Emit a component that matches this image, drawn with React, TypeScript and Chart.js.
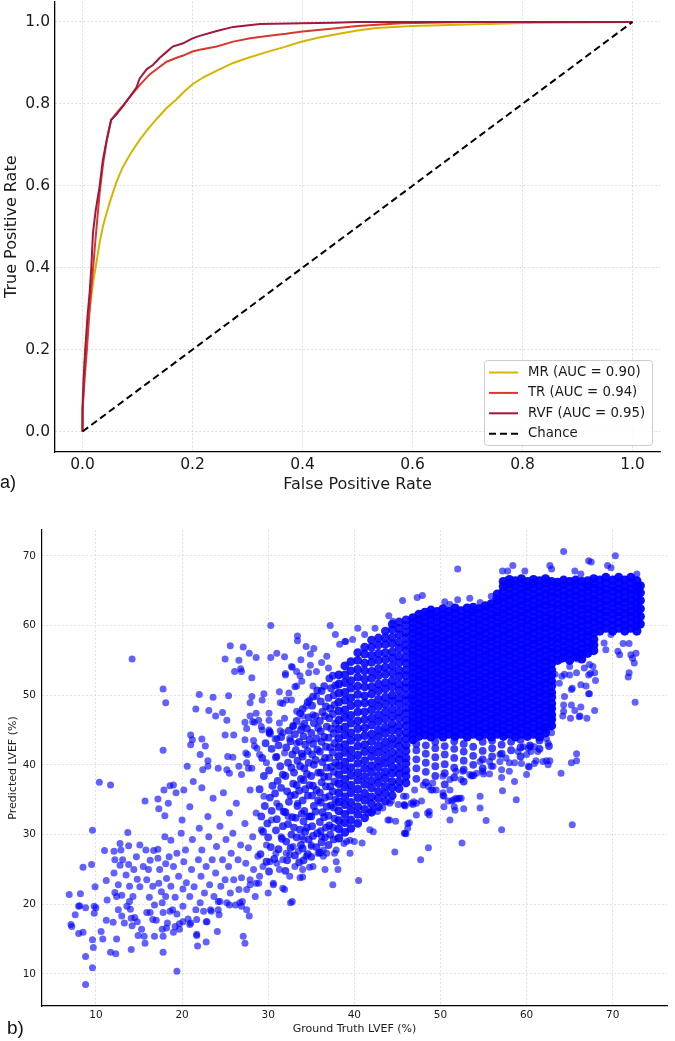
import { useEffect, useRef } from 'react';
import { Chart, registerables } from 'chart.js';

Chart.register(...registerables);

// ---------- Panel a) ROC curves ----------
const rocTicks = [0, 0.2, 0.4, 0.6, 0.8, 1.0];

const mrFpr = [0, 0.001, 0.003, 0.005, 0.008, 0.012, 0.016, 0.02, 0.025, 0.031, 0.037, 0.044, 0.052, 0.062, 0.073, 0.088, 0.104, 0.12, 0.136, 0.153, 0.17, 0.185, 0.2, 0.22, 0.245, 0.274, 0.3, 0.336, 0.365, 0.396, 0.43, 0.469, 0.5, 0.533, 0.6, 0.7, 0.825, 0.9, 1];
const mrTpr = [0, 0.08, 0.14, 0.2, 0.24, 0.29, 0.33, 0.37, 0.41, 0.46, 0.5, 0.535, 0.57, 0.61, 0.645, 0.68, 0.712, 0.74, 0.765, 0.79, 0.81, 0.83, 0.848, 0.865, 0.882, 0.9, 0.912, 0.927, 0.938, 0.951, 0.962, 0.972, 0.979, 0.985, 0.99, 0.994, 0.998, 0.999, 1];

const trFpr = [0, 0, 0.002, 0.004, 0.008, 0.012, 0.016, 0.02, 0.023, 0.027, 0.031, 0.037, 0.044, 0.052, 0.061, 0.073, 0.086, 0.098, 0.104, 0.122, 0.14, 0.153, 0.17, 0.183, 0.2, 0.213, 0.244, 0.274, 0.305, 0.336, 0.37, 0.396, 0.456, 0.5, 0.58, 0.7, 1];
const trTpr = [0, 0.05, 0.09, 0.13, 0.2, 0.28, 0.35, 0.41, 0.46, 0.52, 0.58, 0.65, 0.71, 0.76, 0.776, 0.795, 0.817, 0.836, 0.846, 0.872, 0.89, 0.903, 0.912, 0.918, 0.928, 0.932, 0.94, 0.952, 0.96, 0.966, 0.971, 0.976, 0.984, 0.99, 0.997, 1, 1];

const rvfFpr = [0, 0, 0.002, 0.005, 0.009, 0.013, 0.016, 0.019, 0.024, 0.031, 0.037, 0.044, 0.052, 0.061, 0.073, 0.086, 0.098, 0.104, 0.117, 0.128, 0.14, 0.153, 0.164, 0.183, 0.2, 0.213, 0.244, 0.274, 0.323, 0.4, 0.456, 0.5, 1];
const rvfTpr = [0, 0.06, 0.13, 0.2, 0.28, 0.34, 0.4, 0.485, 0.54, 0.598, 0.663, 0.712, 0.761, 0.773, 0.793, 0.817, 0.84, 0.862, 0.885, 0.895, 0.912, 0.927, 0.94, 0.948, 0.96, 0.966, 0.978, 0.988, 0.995, 0.997, 0.998, 1, 1];

const chanceFpr = [0, 1];
const chanceTpr = [0, 1];

const rocLabels = ['MR (AUC = 0.90)', 'TR (AUC = 0.94)', 'RVF (AUC = 0.95)', 'Chance'];
const rocColors = ['#d6b400', '#d8392a', '#a3173c', '#000000'];

// ---------- Panel b) LVEF scatter ----------
const lvefTicks = [10, 20, 30, 40, 50, 60, 70];

// flat [truth, predicted, truth, predicted, ...] lists
const lvefLowTail = [
  6.9, 21.4, 7.1, 17.1, 7.2, 16.8, 7.6, 18.5, 8.0, 19.7, 8.1, 19.8, 8.2, 21.5, 8.0, 15.8, 8.5, 16.0, 8.5, 25.3,
  8.8, 19.5, 8.8, 12.5, 8.8, 8.5, 9.5, 25.7, 9.6, 30.6, 9.6, 14.9, 9.7, 13.8, 9.6, 10.9, 9.8, 19.7, 9.8, 18.7,
  10.0, 19.5, 9.9, 22.5, 10.4, 37.5, 10.6, 16.1, 10.8, 15.0, 11.0, 27.7, 11.2, 23.4, 11.2, 17.7, 11.3, 20.6, 11.7, 37.1,
  11.7, 13.1, 12.1, 27.6, 12.2, 26.4, 12.1, 24.5, 12.2, 21.7, 12.0, 17.4, 12.3, 12.9, 12.4, 15.0, 12.4, 21.1, 12.6, 22.8,
  12.6, 19.2, 12.8, 28.7, 12.9, 27.8, 12.8, 25.6, 13.0, 21.3, 13.0, 18.3, 13.1, 26.4, 13.3, 17.3, 13.5, 24.2, 13.6, 19.7,
  13.7, 30.3, 13.8, 28.4, 13.8, 25.7, 13.9, 22.6, 13.9, 20.4, 14.0, 19.3, 14.1, 13.5, 14.1, 18.0, 14.2, 16.9, 14.3, 21.1,
  14.4, 25.0, 14.5, 18.1, 14.7, 26.8, 14.8, 23.6, 14.8, 17.5, 14.9, 15.5, 15.1, 28.5, 15.1, 22.5, 15.3, 16.4, 15.5, 25.4,
  15.6, 15.4, 15.7, 14.4, 15.8, 27.8, 15.9, 23.5, 15.9, 18.8, 15.7, 34.8, 16.1, 25.0, 16.2, 21.0, 16.3, 18.8, 16.3, 26.3,
  16.6, 22.6, 16.7, 27.7, 16.8, 19.9, 17.0, 17.7, 17.2, 35.1, 17.2, 26.6, 17.2, 27.9, 17.3, 23.0, 17.3, 33.7, 17.4, 25.0,
  17.6, 21.8, 17.7, 20.2, 17.7, 16.4, 17.8, 13.1, 17.8, 18.8, 17.9, 36.4, 18.0, 32.7, 18.0, 29.7, 18.1, 25.8, 18.1, 21.1,
  18.2, 23.7, 18.3, 17.3, 18.4, 34.5, 18.6, 37.0, 18.5, 26.8, 18.7, 22.6, 18.7, 29.2, 18.9, 19.2, 19.0, 16.0, 19.0, 37.1,
  19.0, 25.4, 19.2, 21.0, 19.3, 36.0, 19.4, 27.3, 19.4, 18.6, 19.4, 10.4, 19.6, 24.0, 19.7, 17.2, 19.7, 16.4, 19.9, 30.2,
  20.0, 32.1, 20.1, 22.2, 20.1, 19.7, 20.2, 36.4, 20.2, 26.1, 20.4, 27.8, 20.5, 23.1, 20.7, 17.9, 20.9, 34.0, 20.9, 21.1,
  21.0, 17.3, 21.1, 25.0, 21.2, 29.3, 21.3, 37.6, 21.4, 22.5, 21.6, 19.2, 21.7, 15.5, 21.8, 14.0, 21.9, 26.4, 22.0, 30.9,
  22.1, 20.2, 22.2, 24.0, 22.3, 36.7, 22.3, 27.8, 22.5, 19.0, 22.6, 21.6, 22.8, 25.4, 22.8, 14.6, 22.9, 17.5, 23.0, 32.6,
  23.1, 29.7, 23.2, 22.8, 23.3, 19.2, 23.5, 26.4, 23.6, 35.2, 23.7, 21.1, 23.9, 24.5, 24.0, 28.3, 24.1, 16.1, 24.2, 20.4,
  24.3, 18.5, 24.4, 31.2, 24.5, 22.6, 24.7, 26.4, 24.8, 36.0, 25.0, 23.5, 25.1, 29.3, 25.2, 20.2, 25.4, 25.4, 25.5, 33.1,
  25.6, 21.6, 25.7, 27.3, 25.9, 30.2, 26.0, 23.5, 26.2, 19.9, 26.3, 34.5, 26.5, 26.4, 26.6, 22.1, 26.8, 28.5, 26.9, 23.8,
  27.0, 20.4, 27.1, 15.4, 27.3, 14.4, 27.3, 31.6, 27.4, 25.9, 27.5, 19.2, 27.7, 28.1, 27.8, 18.3, 27.9, 22.8, 27.9, 36.4,
  28.2, 29.7, 28.3, 25.0, 28.5, 21.1, 28.6, 33.1, 28.8, 26.9, 28.9, 23.0, 29.2, 30.7, 29.4, 25.4, 29.5, 35.5, 29.8, 28.5,
  21.7, 15.7, 29.0, 24.0, 28.6, 23.0, 27.9, 23.5, 27.5, 22.1, 26.7, 20.2, 26.9, 19.7, 25.5, 19.9, 24.4, 20.4, 24.2, 19.2,
  23.4, 19.0, 22.8, 17.5, 21.7, 17.8, 20.9, 17.1, 20.1, 17.5, 19.2, 16.8, 18.2, 16.6, 17.8, 15.4, 16.6, 17.8, 16.8, 15.4,
  18.6, 19.0,
];

const lvefMidLower = [
  30.0, 21.6, 30.2, 26.1, 30.4, 32.1, 30.6, 23.0, 30.9, 27.3, 31.0, 34.5, 31.3, 25.0, 31.5, 29.7, 31.7, 22.3, 31.9, 22.1,
  32.1, 27.3, 32.3, 32.6, 32.5, 24.0, 32.6, 20.2, 32.8, 20.4, 32.9, 28.3, 33.1, 25.4, 33.4, 34.5, 33.7, 23.8, 33.9, 29.7,
  34.0, 25.0, 34.4, 26.9, 34.6, 32.6, 35.0, 28.5, 35.2, 25.4, 35.8, 27.3, 36.2, 29.7, 36.6, 25.0, 36.8, 27.3, 37.5, 22.8,
  37.7, 27.3, 38.1, 25.0, 44.7, 27.5, 40.5, 23.4, 36.4, 26.9, 34.8, 25.3, 34.0, 23.9, 30.6, 22.8, 46.2, 31.6, 45.8, 30.2,
  43.9, 32.1, 44.8, 31.9, 44.1, 34.5, 45.1, 34.3, 45.8, 34.3, 41.8, 30.7, 42.2, 30.4, 40.9, 28.8, 40.0, 29.0, 39.1, 29.0,
  37.9, 27.8, 37.9, 26.1, 39.5, 27.3, 36.4, 27.8, 35.0, 28.3, 34.1, 29.3, 33.5, 27.6, 32.5, 27.1, 31.7, 26.4, 31.0, 25.9,
  47.2, 32.8, 48.7, 32.8, 48.7, 33.3, 45.9, 30.2, 46.4, 31.7, 44.1, 32.1, 46.9, 34.7, 45.8, 34.2, 44.3, 34.8, 43.3, 33.8,
  42.7, 33.3, 41.6, 33.1, 42.1, 33.5, 39.5, 29.2, 38.8, 28.7, 47.8, 34.8, 47.0, 36.4, 46.0, 35.5, 46.6, 34.5, 48.6, 28.1,
  47.7, 26.4, 48.5, 33.1, 46.2, 30.9, 46.0, 30.1, 45.7, 35.5, 45.9, 34.1, 46.8, 34.3, 47.2, 34.5,
];

const lvefUpperLeft = [
  14.2, 55.2, 17.8, 50.9, 18.1, 48.9, 17.8, 42.1, 30.3, 60.0, 37.2, 60.0, 37.8, 58.7, 33.4, 58.5, 33.4, 57.8, 34.4, 57.0,
  35.3, 56.7, 25.6, 57.1, 27.1, 56.9, 25.0, 55.2, 26.6, 55.0, 27.8, 56.0, 28.6, 55.4, 31.0, 56.0, 30.3, 55.4, 31.9, 55.5,
  33.8, 55.1, 34.9, 55.9, 26.1, 53.4, 26.8, 53.8, 26.9, 53.4, 28.1, 52.5, 32.8, 54.0, 34.9, 54.3, 22.0, 50.1, 23.6, 49.7,
  25.4, 49.9, 28.1, 49.8, 29.5, 50.2, 21.6, 48.0, 23.1, 47.8, 23.9, 47.0, 24.7, 47.5, 25.2, 46.4, 27.3, 46.1, 28.4, 46.1,
  27.5, 45.2, 28.9, 46.4, 30.1, 47.4, 30.1, 46.4, 29.3, 45.0, 25.0, 44.3, 26.0, 44.3, 21.0, 44.3, 21.2, 43.6, 21.0, 42.9,
  22.3, 43.7, 22.7, 42.7, 22.1, 41.5, 23.0, 40.6, 20.6, 39.8, 25.3, 41.2, 25.9, 41.1, 27.3, 43.6, 28.3, 43.5, 27.6, 41.5,
  28.7, 42.4, 30.1, 45.0, 30.1, 44.6, 30.8, 43.7, 31.4, 44.9, 31.7, 48.8, 31.3, 50.5, 32.0, 53.1, 32.4, 50.3, 32.7, 49.3,
  33.1, 51.2, 23.0, 39.8, 24.2, 39.5, 25.2, 39.3, 26.6, 39.8, 27.7, 39.5, 39.0, 57.7, 39.8, 58.0, 40.4, 59.6, 44.0, 61.4,
  45.6, 63.6, 32.7, 54.1, 32.0, 52.9, 33.3, 53.4, 33.7, 52.8, 34.7, 53.2, 35.6, 53.4, 36.2, 54.7, 36.8, 55.6, 37.0, 53.9,
  27.9, 48.9, 29.3, 49.3, 27.9, 47.0, 28.6, 47.4, 28.2, 46.2, 29.2, 45.5, 30.2, 44.8, 31.0, 43.8, 31.7, 44.6, 31.3, 46.0,
  31.9, 46.7, 31.4, 48.9, 32.1, 49.3, 33.3, 51.3, 33.9, 52.0, 35.2, 51.3, 35.6, 49.8, 34.4, 48.4, 34.8, 49.3, 33.3, 47.7,
  34.0, 47.0, 35.2, 47.2, 32.9, 45.5, 33.9, 45.5, 32.5, 43.8, 33.3, 43.1, 27.4, 41.7, 28.4, 42.7, 29.0, 41.5, 27.5, 40.3,
  22.4, 39.3, 25.5, 38.8, 26.9, 38.6, 28.1, 39.5, 29.8, 40.3, 31.0, 41.2, 31.9, 41.7, 38.3, 57.3, 38.9, 57.7, 41.2, 58.7,
  42.4, 59.6, 44.5, 60.6,
];

const lvefLowerRight = [
  65.3, 31.4, 64.0, 38.8, 60.0, 38.6, 58.8, 35.0, 58.6, 37.6, 57.2, 36.3, 57.1, 38.2, 57.1, 30.7, 55.3, 32.0, 54.6, 35.5,
  54.6, 33.8, 55.0, 38.7, 55.7, 38.7, 53.6, 38.4, 52.5, 28.8, 51.1, 32.1, 50.4, 34.0, 51.7, 33.5, 52.4, 35.2, 52.7, 33.7,
  50.9, 34.8, 50.3, 35.6, 51.5, 35.0, 52.0, 35.1, 48.0, 37.1, 48.9, 36.4, 49.5, 36.4, 72.6, 49.0, 67.9, 47.8, 66.3, 48.3,
  65.6, 47.8, 65.2, 48.6, 66.2, 47.0, 67.0, 46.7, 65.1, 46.7, 64.2, 47.0, 64.4, 49.8, 67.2, 50.2, 65.2, 50.8, 65.8, 41.6,
  65.2, 40.3, 65.8, 40.6, 62.3, 40.6, 62.7, 40.6, 61.1, 40.6, 61.9, 40.5, 60.3, 39.7, 58.0, 40.3, 58.6, 40.3, 57.1, 39.3,
  58.0, 39.1, 60.0, 41.5, 60.5, 41.9, 60.9, 42.6, 61.3, 41.9, 60.4, 42.6, 62.3, 43.8, 62.5, 43.1, 62.9, 44.6, 62.7, 45.5,
  62.9, 46.5, 62.9, 47.7, 51.6, 34.0, 51.8, 35.2, 52.2, 35.2, 50.4, 35.5, 51.3, 34.8, 50.3, 38.4, 51.1, 37.9, 51.8, 39.1,
  52.6, 39.1, 53.4, 38.6, 54.2, 38.8, 54.9, 39.1, 56.1, 39.8, 56.9, 40.5, 57.6, 41.0, 59.0, 41.9, 59.6, 42.6, 60.2, 42.4,
  50.3, 36.0, 49.1, 36.4, 48.6, 36.9, 49.1, 37.4, 51.1, 36.4, 52.4, 37.9, 54.6, 40.5, 55.7, 40.5, 56.9, 41.5, 62.5, 40.0,
  60.9, 40.2, 60.2, 39.8, 59.4, 40.2, 55.9, 39.8,
];

const lvefTopFringe = [
  64.3, 70.6, 70.3, 70.0, 52.0, 68.1, 47.3, 64.0, 47.9, 64.3, 50.5, 63.4, 52.0, 63.7, 53.4, 63.9, 54.6, 63.3, 55.9, 64.2,
  56.4, 63.9, 51.1, 63.0, 57.2, 67.8, 57.8, 67.8, 58.4, 68.6, 59.8, 67.8, 62.7, 68.6, 62.9, 68.1, 65.6, 67.8, 66.3, 67.4,
  67.2, 69.3, 67.5, 69.1, 69.4, 68.6, 69.8, 68.3, 72.8, 67.4,
];

const lvefRightSpread = [
  71.8, 52.6, 71.9, 53.2, 72.5, 54.6, 72.3, 55.3, 72.7, 56.0, 72.1, 55.8, 70.6, 56.3, 70.8, 55.8, 69.0, 57.5, 69.8, 58.7,
  71.2, 57.4, 71.9, 57.4, 65.3, 51.0, 66.1, 46.9, 64.3, 47.7, 64.3, 48.6, 68.0, 52.1, 67.4, 53.1, 66.3, 51.5, 66.7, 53.9,
  67.3, 54.4, 67.9, 53.2, 65.9, 55.2, 65.0, 54.1, 64.0, 55.1, 64.4, 53.0, 63.3, 53.0, 69.2, 56.5, 67.5, 57.0, 66.9, 51.3,
  67.3, 50.2, 63.8, 51.7, 64.1, 52.7, 65.0, 52.9, 65.8, 53.2, 67.2, 52.9, 67.7, 54.1,
];

// crowded diagonal band, ground truth 29-38 %
const lvefBandPairs = [
  29.1, 27.2, 29.4, 30.4, 29.2, 32.6, 29.6, 34.1, 29.0, 36.5, 29.5, 38.4, 29.3, 41.0, 29.7, 43.1, 29.8, 26.1, 29.9, 31.6,
  30.1, 24.7, 30.3, 28.2, 30.0, 29.6, 30.4, 33.4, 30.2, 35.3, 30.5, 37.0, 30.1, 39.2, 30.4, 42.3, 30.2, 44.5,
  30.7, 26.5, 30.9, 30.6, 31.2, 27.9, 31.0, 32.2, 31.3, 34.0, 30.8, 35.9, 31.1, 37.7, 31.4, 39.8, 30.9, 41.1, 31.2, 42.8,
  31.5, 44.0, 31.6, 29.4, 31.7, 31.2, 31.8, 33.3, 31.5, 36.7, 31.7, 38.6,
  32.0, 24.8, 32.2, 26.3, 32.1, 29.0, 32.3, 31.5, 32.0, 33.2, 32.4, 34.7, 32.2, 36.2, 32.0, 38.4, 32.3, 40.3, 32.1, 42.5,
  32.4, 44.9, 32.6, 28.1, 32.7, 30.0, 32.8, 32.5, 32.6, 35.6, 32.9, 37.3, 32.7, 39.6, 32.8, 41.5, 32.6, 43.4, 32.9, 45.6,
  33.1, 27.0, 33.3, 29.6, 33.0, 31.0, 33.2, 32.4, 33.4, 34.1, 33.1, 35.7, 33.3, 37.1, 33.0, 38.9, 33.4, 40.6, 33.2, 42.1,
  33.1, 44.4, 33.3, 46.3, 33.6, 26.0, 33.8, 28.5, 33.7, 30.7, 33.9, 33.0, 33.6, 36.3, 33.8, 38.0, 33.7, 39.8, 33.9, 41.6,
  33.6, 43.3, 33.8, 45.0, 33.7, 47.4,
  34.1, 26.3, 34.0, 28.0, 34.3, 30.4, 34.1, 31.9, 34.2, 33.4, 34.0, 34.9, 34.3, 36.5, 34.1, 37.8, 34.2, 39.5, 34.0, 41.2,
  34.3, 42.9, 34.1, 44.1, 34.2, 45.9, 34.0, 48.0, 34.6, 27.2, 34.7, 29.3, 34.5, 31.0, 34.8, 32.6, 34.6, 35.6, 34.8, 37.1,
  34.5, 38.7, 34.7, 40.3, 34.6, 42.0, 34.8, 43.6, 34.5, 45.2, 34.7, 46.8, 34.6, 49.0,
  35.0, 26.8, 35.2, 29.8, 35.1, 31.2, 35.0, 32.6, 35.3, 34.1, 35.1, 35.6, 35.2, 37.0, 35.0, 38.4, 35.3, 40.0, 35.1, 41.5,
  35.2, 43.0, 35.0, 44.6, 35.3, 46.0, 35.1, 48.5, 35.2, 49.8, 35.6, 28.2, 35.7, 30.2, 35.5, 33.3, 35.8, 34.9, 35.6, 36.4,
  35.8, 38.9, 35.5, 40.7, 35.7, 42.2, 35.6, 43.8, 35.8, 45.3, 35.5, 47.0, 35.7, 50.7,
  36.0, 27.4, 36.2, 28.9, 36.1, 30.5, 36.0, 31.8, 36.3, 33.2, 36.1, 34.6, 36.0, 36.0, 36.2, 37.5, 36.1, 38.9, 36.3, 40.4,
  36.0, 41.9, 36.2, 43.3, 36.1, 44.8, 36.0, 46.3, 36.3, 47.6, 36.1, 49.1, 36.2, 50.6, 36.6, 29.6, 36.7, 31.0, 36.5, 32.5,
  36.8, 34.0, 36.6, 35.3, 36.7, 36.9, 36.5, 38.3, 36.8, 39.6, 36.6, 41.0, 36.7, 42.6, 36.5, 44.0, 36.8, 45.5, 36.6, 47.0,
  36.7, 48.4, 36.5, 51.3,
  37.0, 28.5, 37.2, 30.0, 37.1, 31.3, 37.0, 32.7, 37.3, 34.2, 37.1, 35.5, 37.2, 36.9, 37.0, 38.3, 37.3, 39.7, 37.1, 41.0,
  37.2, 42.5, 37.0, 43.9, 37.3, 45.2, 37.1, 46.7, 37.2, 48.1, 37.0, 49.6, 37.3, 51.0, 37.1, 52.4, 37.6, 29.3, 37.5, 31.0,
  37.7, 32.3, 37.6, 33.9, 37.8, 35.0, 37.5, 36.2, 37.7, 37.6, 37.6, 39.0, 37.8, 40.3, 37.5, 41.8, 37.7, 43.1, 37.6, 44.5,
  37.8, 45.9, 37.5, 47.3, 37.7, 48.6, 37.6, 50.0, 37.8, 51.4, 37.5, 52.8,
];

// columns: first value is the ground-truth LVEF, the rest are predictions at that value
const lvefShoulderColumns = [
  [38.2, 29.5, 30.8, 32.0, 33.4, 34.7, 36.0, 37.3, 38.6, 39.9, 41.2, 42.5, 43.8, 45.1, 46.4, 47.7, 49.0, 50.3, 51.6, 52.9],
  [38.9, 30.3, 31.7, 32.9, 34.3, 35.4, 36.8, 37.9, 39.3, 40.4, 41.8, 42.9, 44.3, 45.4, 46.8, 47.9, 49.3, 50.4, 51.8, 52.9, 54.2],
  [39.6, 30.9, 32.1, 33.5, 34.6, 36.0, 37.1, 38.5, 39.6, 41.0, 42.1, 43.5, 44.6, 46.0, 47.1, 48.5, 49.6, 51.0, 52.1, 53.5, 54.8],
  [40.4, 31.6, 32.9, 34.0, 35.3, 36.5, 37.8, 38.9, 40.2, 41.4, 42.7, 43.9, 45.2, 46.3, 47.6, 48.8, 50.1, 51.3, 52.6, 53.7, 55.0, 56.1],
  [41.2, 32.4, 33.6, 34.9, 35.9, 37.2, 38.3, 39.5, 40.6, 41.9, 42.9, 44.2, 45.3, 46.5, 47.6, 48.9, 49.9, 51.2, 52.3, 53.5, 54.6, 55.9, 56.9],
  [42.0, 33.2, 34.4, 35.4, 36.7, 37.7, 38.9, 39.9, 41.2, 42.2, 43.4, 44.4, 45.7, 46.7, 47.9, 48.9, 50.2, 51.2, 52.4, 53.4, 54.7, 55.7, 56.9, 57.9],
  [42.8, 34.0, 35.2, 36.2, 37.4, 38.4, 39.6, 40.6, 41.8, 42.8, 44.0, 45.0, 46.2, 47.2, 48.4, 49.4, 50.6, 51.6, 52.8, 53.8, 55.0, 56.0, 57.2, 58.2],
  [43.6, 34.8, 35.9, 36.9, 38.1, 39.0, 40.2, 41.2, 42.3, 43.3, 44.5, 45.4, 46.6, 47.6, 48.7, 49.7, 50.9, 51.8, 53.0, 54.0, 55.1, 56.1, 57.3, 58.2, 59.2],
  [44.4, 35.6, 36.7, 37.6, 38.8, 39.7, 40.8, 41.8, 42.9, 43.8, 45.0, 45.9, 47.0, 48.0, 49.1, 50.0, 51.2, 52.1, 53.2, 54.2, 55.3, 56.2, 57.4, 58.3, 59.4, 60.2],
  [45.2, 36.6, 37.6, 38.7, 39.6, 40.7, 41.6, 42.7, 43.6, 44.7, 45.6, 46.7, 47.6, 48.7, 49.6, 50.7, 51.6, 52.7, 53.6, 54.7, 55.6, 56.7, 57.6, 58.7, 59.6, 60.5],
  [46.0, 37.4, 38.4, 39.2, 40.2, 41.0, 42.0, 42.8, 43.8, 44.6, 45.6, 46.4, 47.4, 48.2, 49.2, 50.0, 51.0, 51.8, 52.8, 53.6, 54.6, 55.4, 56.4, 57.2, 58.2, 59.0, 60.0, 60.8],
];

const lvefUnderColumns = [
  [47.2, 38.0, 39.5, 40.8, 42.1, 43.0],
  [48.3, 37.5, 39.0, 40.3, 41.6, 42.8],
  [49.4, 38.4, 39.8, 41.1, 42.4, 43.3],
  [50.5, 37.2, 38.8, 40.1, 41.5, 42.7],
  [51.6, 38.2, 39.6, 41.0, 42.3, 43.4],
  [52.7, 37.6, 39.3, 40.6, 41.9, 43.0],
  [53.8, 38.5, 40.0, 41.3, 42.6],
  [54.9, 39.5, 40.8, 42.0, 43.3],
  [56.0, 41.2, 42.4, 43.5],
  [57.1, 41.6, 42.9],
  [58.2, 42.1, 43.3],
  [59.3, 41.2, 42.5, 43.6],
  [60.4, 42.8],
  [61.5, 42.3, 43.5],
  [62.6, 42.7],
];

const lvefCoreColumns = [
  [46.8, 43.6, 44.5, 45.2, 46.1, 46.8, 47.7, 48.4, 49.3, 50.0, 50.9, 51.6, 52.5, 53.2, 54.1, 54.8, 55.7, 56.4, 57.3, 58.0, 58.9, 59.6, 60.4, 61.1],
  [47.5, 44.1, 44.9, 45.7, 46.4, 47.3, 48.0, 48.9, 49.6, 50.5, 51.2, 52.1, 52.8, 53.7, 54.4, 55.3, 56.0, 56.9, 57.6, 58.5, 59.2, 60.1, 60.8, 61.6],
  [48.2, 44.3, 45.1, 46.0, 46.8, 47.6, 48.5, 49.2, 50.1, 50.8, 51.7, 52.4, 53.3, 54.0, 54.9, 55.6, 56.5, 57.2, 58.1, 58.8, 59.7, 60.4, 61.3, 61.9],
  [48.9, 44.0, 44.8, 45.6, 46.5, 47.2, 48.1, 48.8, 49.7, 50.4, 51.3, 52.0, 52.9, 53.6, 54.5, 55.2, 56.1, 56.8, 57.7, 58.4, 59.3, 60.0, 60.9, 61.6, 62.2],
  [49.6, 44.4, 45.2, 46.1, 46.8, 47.7, 48.4, 49.3, 50.0, 50.9, 51.6, 52.5, 53.2, 54.1, 54.8, 55.7, 56.4, 57.3, 58.0, 58.9, 59.6, 60.5, 61.2, 62.0],
  [50.3, 44.0, 44.9, 45.6, 46.5, 47.2, 48.1, 48.8, 49.7, 50.4, 51.3, 52.0, 52.9, 53.6, 54.5, 55.2, 56.1, 56.8, 57.7, 58.4, 59.3, 60.0, 60.9, 61.6, 62.4],
  [51.0, 44.4, 45.3, 46.0, 46.9, 47.6, 48.5, 49.2, 50.1, 50.8, 51.7, 52.4, 53.3, 54.0, 54.9, 55.6, 56.5, 57.2, 58.1, 58.8, 59.7, 60.4, 61.3, 62.0],
  [51.7, 44.1, 44.8, 45.7, 46.4, 47.3, 48.0, 48.9, 49.6, 50.5, 51.2, 52.1, 52.8, 53.7, 54.4, 55.3, 56.0, 56.9, 57.6, 58.5, 59.2, 60.1, 60.8, 61.7, 62.5],
  [52.4, 44.4, 45.2, 46.1, 46.8, 47.7, 48.4, 49.3, 50.0, 50.9, 51.6, 52.5, 53.2, 54.1, 54.8, 55.7, 56.4, 57.3, 58.0, 58.9, 59.6, 60.5, 61.2, 62.1],
  [53.1, 44.0, 44.9, 45.6, 46.5, 47.2, 48.1, 48.8, 49.7, 50.4, 51.3, 52.0, 52.9, 53.6, 54.5, 55.2, 56.1, 56.8, 57.7, 58.4, 59.3, 60.0, 60.9, 61.6, 62.5],
  [53.8, 44.4, 45.3, 46.0, 46.9, 47.6, 48.5, 49.2, 50.1, 50.8, 51.7, 52.4, 53.3, 54.0, 54.9, 55.6, 56.5, 57.2, 58.1, 58.8, 59.7, 60.4, 61.3, 62.0, 62.6],
  [54.5, 44.1, 44.8, 45.7, 46.4, 47.3, 48.0, 48.9, 49.6, 50.5, 51.2, 52.1, 52.8, 53.7, 54.4, 55.3, 56.0, 56.9, 57.6, 58.5, 59.2, 60.1, 60.8, 61.7, 62.4],
  [55.2, 44.4, 45.2, 46.1, 46.8, 47.7, 48.4, 49.3, 50.0, 50.9, 51.6, 52.5, 53.2, 54.1, 54.8, 55.7, 56.4, 57.3, 58.0, 58.9, 59.6, 60.5, 61.2, 62.1, 62.8],
  [55.9, 44.0, 44.9, 45.6, 46.5, 47.2, 48.1, 48.8, 49.7, 50.4, 51.3, 52.0, 52.9, 53.6, 54.5, 55.2, 56.1, 56.8, 57.7, 58.4, 59.3, 60.0, 60.9, 61.6, 62.5, 63.1],
  [56.6, 44.4, 45.3, 46.0, 46.9, 47.6, 48.5, 49.2, 50.1, 50.8, 51.7, 52.4, 53.3, 54.0, 54.9, 55.6, 56.5, 57.2, 58.1, 58.8, 59.7, 60.4, 61.3, 62.0, 62.9, 63.6, 64.5],
  [57.3, 44.1, 44.8, 45.7, 46.4, 47.3, 48.0, 48.9, 49.6, 50.5, 51.2, 52.1, 52.8, 53.7, 54.4, 55.3, 56.0, 56.9, 57.6, 58.5, 59.2, 60.1, 60.8, 61.7, 62.4, 63.3, 64.0, 64.9, 65.6, 66.3],
  [58.0, 44.4, 45.2, 46.1, 46.8, 47.7, 48.4, 49.3, 50.0, 50.9, 51.6, 52.5, 53.2, 54.1, 54.8, 55.7, 56.4, 57.3, 58.0, 58.9, 59.6, 60.5, 61.2, 62.1, 62.8, 63.7, 64.4, 65.3, 66.0, 66.6],
  [58.7, 44.0, 44.9, 45.6, 46.5, 47.2, 48.1, 48.8, 49.7, 50.4, 51.3, 52.0, 52.9, 53.6, 54.5, 55.2, 56.1, 56.8, 57.7, 58.4, 59.3, 60.0, 60.9, 61.6, 62.5, 63.2, 64.1, 64.8, 65.7, 66.4],
  [59.4, 44.4, 45.3, 46.0, 46.9, 47.6, 48.5, 49.2, 50.1, 50.8, 51.7, 52.4, 53.3, 54.0, 54.9, 55.6, 56.5, 57.2, 58.1, 58.8, 59.7, 60.4, 61.3, 62.0, 62.9, 63.6, 64.5, 65.2, 66.1, 66.7],
  [60.1, 44.1, 44.8, 45.7, 46.4, 47.3, 48.0, 48.9, 49.6, 50.5, 51.2, 52.1, 52.8, 53.7, 54.4, 55.3, 56.0, 56.9, 57.6, 58.5, 59.2, 60.1, 60.8, 61.7, 62.4, 63.3, 64.0, 64.9, 65.6, 66.3],
  [60.8, 44.4, 45.2, 46.1, 46.8, 47.7, 48.4, 49.3, 50.0, 50.9, 51.6, 52.5, 53.2, 54.1, 54.8, 55.7, 56.4, 57.3, 58.0, 58.9, 59.6, 60.5, 61.2, 62.1, 62.8, 63.7, 64.4, 65.3, 66.0, 66.6],
  [61.5, 44.0, 44.9, 45.6, 46.5, 47.2, 48.1, 48.8, 49.7, 50.4, 51.3, 52.0, 52.9, 53.6, 54.5, 55.2, 56.1, 56.8, 57.7, 58.4, 59.3, 60.0, 60.9, 61.6, 62.5, 63.2, 64.1, 64.8, 65.7, 66.4],
  [62.2, 44.6, 45.3, 46.0, 46.9, 47.6, 48.5, 49.2, 50.1, 50.8, 51.7, 52.4, 53.3, 54.0, 54.9, 55.6, 56.5, 57.2, 58.1, 58.8, 59.7, 60.4, 61.3, 62.0, 62.9, 63.6, 64.5, 65.2, 66.1, 66.7],
  [62.9, 45.6, 46.5, 47.2, 48.1, 48.8, 49.7, 50.4, 51.3, 52.0, 52.9, 53.6, 54.5, 55.2, 56.1, 56.8, 57.7, 58.4, 59.3, 60.0, 60.9, 61.6, 62.5, 63.2, 64.1, 64.8, 65.7, 66.3],
  [63.6, 55.0, 55.9, 56.6, 57.5, 58.2, 59.1, 59.8, 60.7, 61.4, 62.3, 63.0, 63.9, 64.6, 65.5, 66.2],
  [64.3, 55.4, 56.2, 57.0, 57.8, 58.6, 59.5, 60.2, 61.1, 61.8, 62.7, 63.4, 64.3, 65.0, 65.9, 66.5],
  [65.0, 55.0, 55.9, 56.6, 57.5, 58.2, 59.1, 59.8, 60.7, 61.4, 62.3, 63.0, 63.9, 64.6, 65.5, 66.3],
  [65.7, 55.5, 56.2, 57.0, 57.8, 58.6, 59.5, 60.2, 61.1, 61.8, 62.7, 63.4, 64.3, 65.0, 65.9, 66.5],
  [66.4, 55.2, 55.9, 56.6, 57.5, 58.2, 59.1, 59.8, 60.7, 61.4, 62.3, 63.0, 63.9, 64.6, 65.5, 66.3],
  [67.1, 56.0, 56.8, 57.6, 58.5, 59.2, 60.1, 60.8, 61.7, 62.4, 63.3, 64.0, 64.9, 65.6, 66.4],
  [67.8, 56.4, 57.2, 58.0, 58.9, 59.6, 60.5, 61.2, 62.1, 62.8, 63.7, 64.4, 65.3, 66.0, 66.7],
  [68.5, 59.2, 60.0, 60.8, 61.7, 62.4, 63.3, 64.0, 64.9, 65.6, 66.5],
  [69.2, 59.6, 60.4, 61.3, 62.0, 62.9, 63.6, 64.5, 65.2, 66.1, 66.9],
  [70.0, 59.2, 60.0, 60.8, 61.7, 62.4, 63.3, 64.0, 64.9, 65.6, 66.5],
  [70.7, 59.6, 60.4, 61.3, 62.0, 62.9, 63.6, 64.5, 65.2, 66.1, 66.9],
  [71.4, 59.2, 60.0, 60.8, 61.7, 62.4, 63.3, 64.0, 64.9, 65.6, 66.5],
  [72.1, 59.6, 60.4, 61.3, 62.0, 62.9, 63.6, 64.5, 65.2, 66.1, 66.9],
  [72.8, 59.2, 60.0, 60.8, 61.7, 62.4, 63.3, 64.0, 64.9, 65.6, 66.4],
  [73.2, 60.2, 61.3, 62.4, 63.6, 64.7, 65.7],
];

// ---------- helpers ----------
const zipXY = (xs: number[], ys: number[]) => xs.map((x, i) => ({ x, y: ys[i] }));

const fromPairs = (flat: number[]) => {
  const out: { x: number; y: number }[] = [];
  for (let i = 0; i + 1 < flat.length; i += 2) out.push({ x: flat[i], y: flat[i + 1] });
  return out;
};

const fromColumns = (cols: number[][]) => {
  const out: { x: number; y: number }[] = [];
  cols.forEach((col) => {
    for (let i = 1; i < col.length; i++) out.push({ x: col[0], y: col[i] });
  });
  return out;
};

const FONT = 'DejaVu Sans';
const TEXT = '#1a1a1a';

// legend drawn inside the plot, bottom-right
const rocLegend = {
  id: 'rocLegend',
  afterDraw(chart: any) {
    const { ctx, chartArea } = chart;
    const w = 168;
    const h = 85;
    const x0 = chartArea.right - 8 - w;
    const y0 = chartArea.bottom - 7 - h;
    ctx.save();
    ctx.beginPath();
    ctx.roundRect(x0 + 0.5, y0 + 0.5, w, h, 3);
    ctx.fillStyle = 'rgba(255,255,255,0.85)';
    ctx.fill();
    ctx.strokeStyle = '#cccccc';
    ctx.lineWidth = 1;
    ctx.stroke();
    chart.data.datasets.forEach((ds: any, i: number) => {
      const cy = y0 + 12.5 + i * 20.4;
      ctx.beginPath();
      ctx.setLineDash(ds.borderDash || []);
      ctx.strokeStyle = ds.borderColor;
      ctx.lineWidth = 2;
      ctx.moveTo(x0 + 5, cy);
      ctx.lineTo(x0 + 34, cy);
      ctx.stroke();
      ctx.setLineDash([]);
      ctx.fillStyle = TEXT;
      ctx.font = `13.3px "${FONT}"`;
      ctx.textBaseline = 'middle';
      ctx.textAlign = 'left';
      ctx.fillText(ds.label, x0 + 44, cy);
    });
    ctx.restore();
  },
};

function RocChart() {
  const ref = useRef<HTMLCanvasElement>(null);
  useEffect(() => {
    if (!ref.current) return;
    const series = [
      zipXY(mrFpr, mrTpr),
      zipXY(trFpr, trTpr),
      zipXY(rvfFpr, rvfTpr),
      zipXY(chanceFpr, chanceTpr),
    ];
    const drawOrder = [3, 2, 1, 0];
    const chart = new Chart(ref.current, {
      type: 'line',
      data: {
        datasets: series.map((data, i) => ({
          label: rocLabels[i],
          data,
          borderColor: rocColors[i],
          backgroundColor: rocColors[i],
          borderWidth: 2,
          borderDash: i === 3 ? [7, 4] : [],
          pointRadius: 0,
          tension: 0,
          fill: false,
          order: drawOrder[i],
        })),
      },
      options: {
        responsive: false,
        animation: false,
        events: [],
        layout: { padding: { left: 0, right: 15, top: 1.5, bottom: 0 } },
        plugins: { legend: { display: false }, tooltip: { enabled: false } },
        scales: {
          x: {
            type: 'linear',
            min: -0.05,
            max: 1.05,
            afterBuildTicks: (s: any) => { s.ticks = rocTicks.map((v) => ({ value: v })); },
            afterFit: (s: any) => { s.height = 48; s.paddingLeft = 0; s.paddingRight = 0; },
            ticks: {
              font: { family: FONT, size: 15.5 }, color: TEXT, padding: 4,
              maxRotation: 0, autoSkip: false,
              callback: (v: any) => Number(v).toFixed(1),
            },
            grid: { color: '#d4d4d4', lineWidth: 0.8, drawTicks: false },
            border: { color: '#000', width: 1.3, dash: [2, 2] },
            title: {
              display: true, text: 'False Positive Rate', color: TEXT,
              font: { family: FONT, size: 16 }, padding: { top: 0, bottom: 5.4 },
            },
          },
          y: {
            type: 'linear',
            min: -0.05,
            max: 1.05,
            afterBuildTicks: (s: any) => { s.ticks = rocTicks.map((v) => ({ value: v })); },
            afterFit: (s: any) => { s.width = 55; s.paddingTop = 0; s.paddingBottom = 0; },
            ticks: {
              font: { family: FONT, size: 15.5 }, color: TEXT, padding: 5,
              callback: (v: any) => Number(v).toFixed(1),
            },
            grid: { color: '#d4d4d4', lineWidth: 0.8, drawTicks: false },
            border: { color: '#000', width: 1.3, dash: [2, 2] },
            title: {
              display: true, text: 'True Positive Rate', color: TEXT,
              font: { family: FONT, size: 16 }, padding: { top: 2.4, bottom: 0 },
            },
          },
        },
      } as any,
      plugins: [rocLegend],
    });
    return () => chart.destroy();
  }, []);
  return (
    <canvas ref={ref} width={675} height={500} style={{ position: 'absolute', left: 0, top: 0 }} />
  );
}

function LvefScatter() {
  const ref = useRef<HTMLCanvasElement>(null);
  useEffect(() => {
    if (!ref.current) return;
    const sparse = [
      ...fromPairs(lvefLowTail),
      ...fromPairs(lvefMidLower),
      ...fromPairs(lvefUpperLeft),
      ...fromPairs(lvefLowerRight),
      ...fromPairs(lvefRightSpread),
      ...fromPairs(lvefTopFringe),
    ];
    const band = [...fromPairs(lvefBandPairs), ...fromColumns(lvefUnderColumns)];
    const shoulder = fromColumns(lvefShoulderColumns);
    const core = fromColumns(lvefCoreColumns);
    // each plotted point in the crowded groups stands for many overlapping
    // cases, so those groups are drawn more opaque than the isolated ones
    const dot = (label: string, data: any[], alpha: number, r: number) => ({
      label, data, backgroundColor: `rgba(0,0,255,${alpha})`, borderWidth: 0, pointRadius: r, pointHoverRadius: r,
    });
    const chart = new Chart(ref.current, {
      type: 'scatter',
      data: {
        datasets: [
          dot('core', core, 0.95, 4.6),
          dot('shoulder', shoulder, 0.88, 4.4),
          dot('band', band, 0.75, 3.9),
          dot('sparse', sparse, 0.62, 3.5),
        ],
      },
      options: {
        responsive: false,
        animation: false,
        events: [],
        layout: { padding: { left: 0, right: 8, top: 30, bottom: 0 } },
        plugins: { legend: { display: false }, tooltip: { enabled: false } },
        scales: {
          x: {
            type: 'linear',
            min: 3.74,
            max: 76.3,
            afterBuildTicks: (s: any) => { s.ticks = lvefTicks.map((v) => ({ value: v })); },
            afterFit: (s: any) => { s.height = 35; s.paddingLeft = 0; s.paddingRight = 0; },
            ticks: { font: { family: FONT, size: 10.5 }, color: TEXT, padding: 3, maxRotation: 0, autoSkip: false },
            grid: { color: '#d8d8d8', lineWidth: 0.8, drawTicks: false },
            border: { color: '#000', width: 1.2, dash: [2, 2] },
            title: {
              display: true, text: 'Ground Truth LVEF (%)', color: TEXT,
              font: { family: FONT, size: 11 }, padding: { top: 0, bottom: 5.4 },
            },
          },
          y: {
            type: 'linear',
            min: 5.4,
            max: 73.7,
            afterBuildTicks: (s: any) => { s.ticks = lvefTicks.map((v) => ({ value: v })); },
            afterFit: (s: any) => { s.width = 42; s.paddingTop = 0; s.paddingBottom = 0; },
            ticks: { font: { family: FONT, size: 10.5 }, color: TEXT, padding: 6 },
            grid: { color: '#d8d8d8', lineWidth: 0.8, drawTicks: false },
            border: { color: '#000', width: 1.2, dash: [2, 2] },
            title: {
              display: true, text: 'Predicted LVEF (%)', color: TEXT,
              font: { family: FONT, size: 11 }, padding: { top: 6.4, bottom: 0 },
            },
          },
        },
      } as any,
    });
    return () => chart.destroy();
  }, []);
  return (
    <canvas ref={ref} width={675} height={541} style={{ position: 'absolute', left: 0, top: 500 }} />
  );
}

const panelLabel: any = {
  position: 'absolute',
  fontFamily: '"Liberation Sans", Arial, sans-serif',
  color: '#111',
  lineHeight: '20px',
  margin: 0,
};

export default function App() {
  return (
    <div style={{ position: 'absolute', left: 0, top: 0, width: 675, height: 1041, background: '#fff', overflow: 'hidden' }}>
      <RocChart />
      <LvefScatter />
      <div style={{ ...panelLabel, left: 0, top: 472, fontSize: 18 }}>a)</div>
      <div style={{ ...panelLabel, left: 7, top: 1018, fontSize: 19 }}>b)</div>
    </div>
  );
}
